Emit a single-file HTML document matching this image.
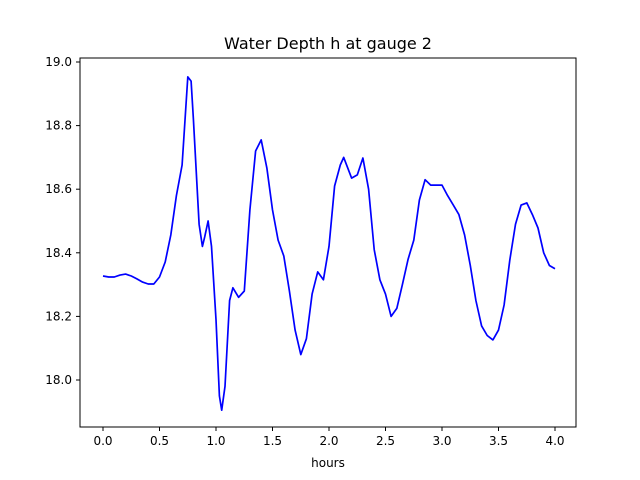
<!DOCTYPE html>
<html><head><meta charset="utf-8"><style>
body{margin:0;background:#fff}
svg{display:block;font-family:"DejaVu Sans","Liberation Sans",sans-serif}
</style></head><body>
<svg id="chart" width="640" height="480">
<rect width="640" height="480" fill="#fff"/>
<text x="328" y="49" text-anchor="middle" font-size="16">Water Depth h at gauge 2</text>
<g id="axes"></g>
<path id="line" fill="none" stroke="#0000ff" stroke-width="1.7" stroke-linejoin="round"/>
<rect x="80" y="58" width="496" height="369" fill="none" stroke="#000" stroke-width="1"/>
<text x="328" y="467" text-anchor="middle" font-size="12">hours</text>
</svg>
<script>
const hours=[0,0.05,0.1,0.15,0.2,0.25,0.3,0.35,0.4,0.45,0.5,0.55,0.6,0.65,0.7,0.75,0.78,0.8,0.85,0.88,0.9,0.93,0.96,1.0,1.03,1.05,1.08,1.12,1.15,1.2,1.25,1.3,1.35,1.4,1.45,1.5,1.55,1.6,1.65,1.7,1.75,1.8,1.85,1.9,1.95,2.0,2.05,2.1,2.13,2.2,2.25,2.3,2.35,2.4,2.45,2.5,2.55,2.6,2.65,2.7,2.75,2.8,2.85,2.9,2.95,3.0,3.05,3.1,3.15,3.2,3.25,3.3,3.35,3.4,3.45,3.5,3.55,3.6,3.65,3.7,3.75,3.8,3.85,3.9,3.95,4.0];
const depth=[18.327,18.324,18.324,18.33,18.333,18.327,18.318,18.308,18.302,18.302,18.324,18.371,18.456,18.58,18.676,18.953,18.94,18.82,18.49,18.42,18.45,18.50,18.42,18.19,17.95,17.905,17.98,18.25,18.29,18.26,18.28,18.535,18.72,18.755,18.666,18.535,18.44,18.39,18.28,18.157,18.08,18.13,18.27,18.34,18.315,18.42,18.61,18.676,18.70,18.635,18.645,18.698,18.6,18.41,18.315,18.27,18.20,18.225,18.30,18.38,18.44,18.566,18.63,18.613,18.613,18.613,18.58,18.55,18.52,18.456,18.36,18.25,18.17,18.14,18.126,18.157,18.236,18.377,18.49,18.55,18.557,18.52,18.478,18.40,18.36,18.35];
const xTicks=[0,0.5,1,1.5,2,2.5,3,3.5,4];
const xTickLabels=["0.0","0.5","1.0","1.5","2.0","2.5","3.0","3.5","4.0"];
const yTicks=[18.0,18.2,18.4,18.6,18.8,19.0];
const yTickLabels=["18.0","18.2","18.4","18.6","18.8","19.0"];
const X=h=>103+(h-0)*113;
const Y=v=>380-(v-18)*318;
const NS="http://www.w3.org/2000/svg";
const ax=document.getElementById('axes');
xTicks.forEach((t,i)=>{
  const l=document.createElementNS(NS,'line');
  l.setAttribute('x1',X(t));l.setAttribute('x2',X(t));l.setAttribute('y1',427);l.setAttribute('y2',431);l.setAttribute('stroke','#000');
  
  
  ax.appendChild(l);
  const tx=document.createElementNS(NS,'text');
  tx.setAttribute('x',X(t));tx.setAttribute('y',445);tx.setAttribute('text-anchor','middle');tx.setAttribute('font-size','12');
  tx.textContent=xTickLabels[i];
  
  
  ax.appendChild(tx);
});
yTicks.forEach((t,i)=>{
  const l=document.createElementNS(NS,'line');
  l.setAttribute('x1',76);l.setAttribute('x2',80);l.setAttribute('y1',Y(t));l.setAttribute('y2',Y(t));l.setAttribute('stroke','#000');
  
  
  ax.appendChild(l);
  const tx=document.createElementNS(NS,'text');
  tx.setAttribute('x',72);tx.setAttribute('y',Y(t)+4);tx.setAttribute('text-anchor','end');tx.setAttribute('font-size','12');
  tx.textContent=yTickLabels[i];
  
  
  ax.appendChild(tx);
});
document.getElementById('line').setAttribute('d',hours.map((h,i)=>(i?'L':'M')+X(h).toFixed(1)+','+Y(depth[i]).toFixed(1)).join(''));
</script>
</body></html>
